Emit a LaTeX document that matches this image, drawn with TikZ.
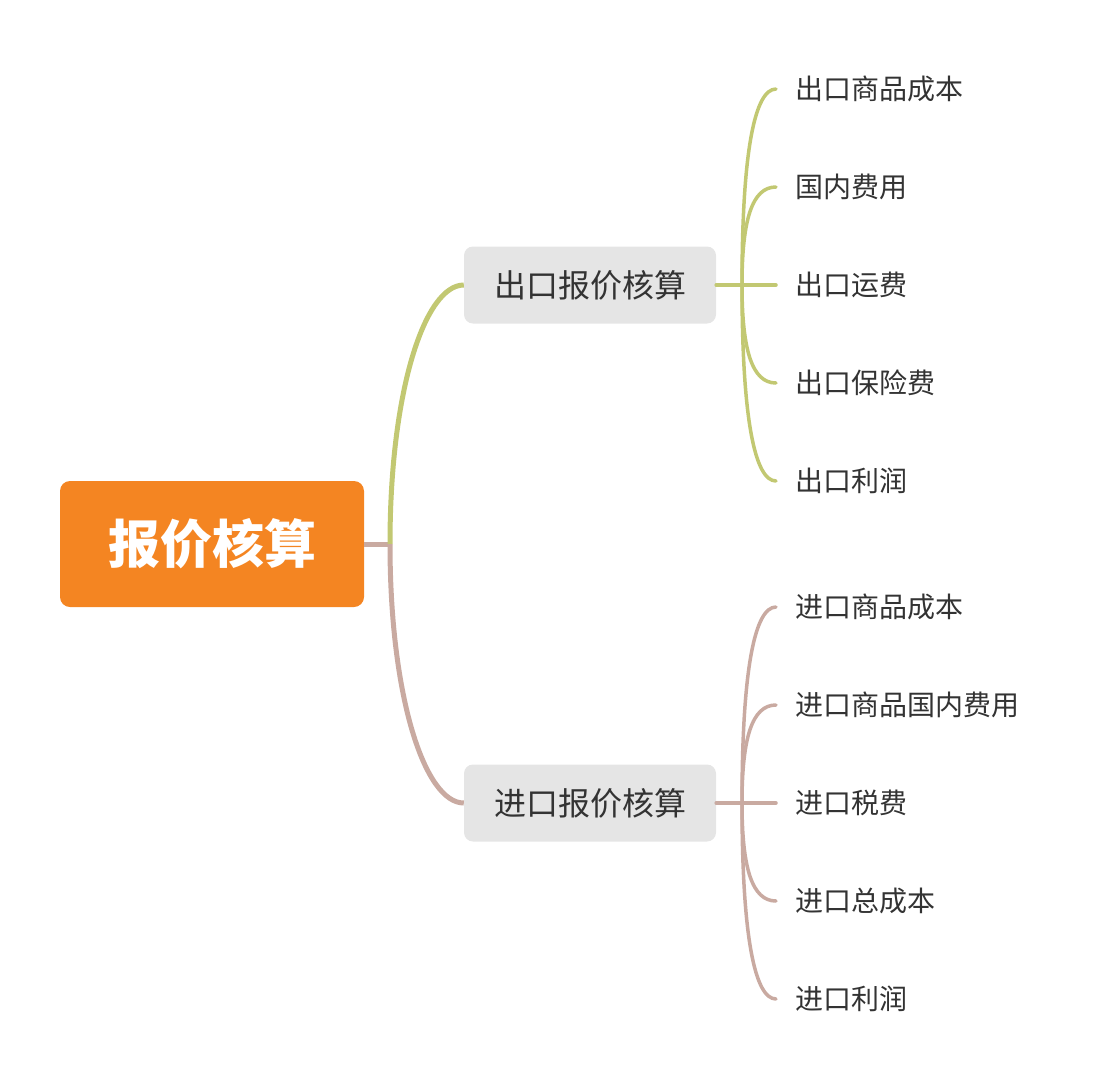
\documentclass[tikz,border=0pt]{standalone}
\usepackage{fontspec}
\setmainfont{Noto Sans CJK SC}
\definecolor{rootor}{HTML}{F48522}
\definecolor{boxgray}{HTML}{E5E5E5}
\definecolor{txtgray}{HTML}{333333}
\definecolor{lgreen}{HTML}{C2C872}
\definecolor{lbrown}{HTML}{C9AAA1}
\begin{document}
\begin{tikzpicture}[x=1pt,y=-1pt,
  rootbox/.style={fill=rootor,rounded corners=10pt,minimum width=304pt,minimum height=126pt,inner sep=0pt,text=white,font=\fontsize{52}{60}\selectfont\bfseries},
  midbox/.style={fill=boxgray,rounded corners=9pt,minimum width=252pt,minimum height=77pt,inner sep=0pt,text=txtgray,font=\fontsize{32}{38}\selectfont},
  leaf/.style={anchor=west,inner xsep=19pt,inner ysep=0pt,text=txtgray,font=\fontsize{28}{34}\selectfont},
  mainline/.style={line width=5pt},
  subline/.style={line width=3.5pt,line cap=round}]
\useasboundingbox (0,0) rectangle (1096,1088);
\node[rootbox] (root) at (212,544) {报价核算};
\node[midbox] (b1) at (590,285) {出口报价核算};
\node[midbox] (b2) at (590,803) {进口报价核算};
\coordinate (j0) at (390,544);
\coordinate (j1) at (742,285);
\coordinate (j2) at (742,803);
% leaves
\node[leaf] (a1) at (776,89) {出口商品成本};
\node[leaf] (a2) at (776,187) {国内费用};
\node[leaf] (a3) at (776,285) {出口运费};
\node[leaf] (a4) at (776,383) {出口保险费};
\node[leaf] (a5) at (776,481) {出口利润};
\node[leaf] (c1) at (776,607) {进口商品成本};
\node[leaf] (c2) at (776,705) {进口商品国内费用};
\node[leaf] (c3) at (776,803) {进口税费};
\node[leaf] (c4) at (776,901) {进口总成本};
\node[leaf] (c5) at (776,999) {进口利润};
% main connectors
\draw[mainline,lbrown] (root.east) -- (j0);
\draw[mainline,lgreen] (j0) .. controls (390,390) and (425,285) .. (b1.west);
\draw[mainline,lbrown] (j0) .. controls (390,698) and (425,803) .. (b2.west);
% export leaves
\begin{scope}[subline,lgreen]
\draw (b1.east) -- (a3.west);
\draw (j1) .. controls (742,150) and (755,89) .. (a1.west);
\draw (j1) .. controls (742,220) and (752,187) .. (a2.west);
\draw (j1) .. controls (742,350) and (752,383) .. (a4.west);
\draw (j1) .. controls (742,420) and (755,481) .. (a5.west);
\end{scope}
\begin{scope}[subline,lbrown]
\draw (b2.east) -- (c3.west);
\draw (j2) .. controls (742,668) and (755,607) .. (c1.west);
\draw (j2) .. controls (742,738) and (752,705) .. (c2.west);
\draw (j2) .. controls (742,868) and (752,901) .. (c4.west);
\draw (j2) .. controls (742,938) and (755,999) .. (c5.west);
\end{scope}
\end{tikzpicture}
\end{document}
